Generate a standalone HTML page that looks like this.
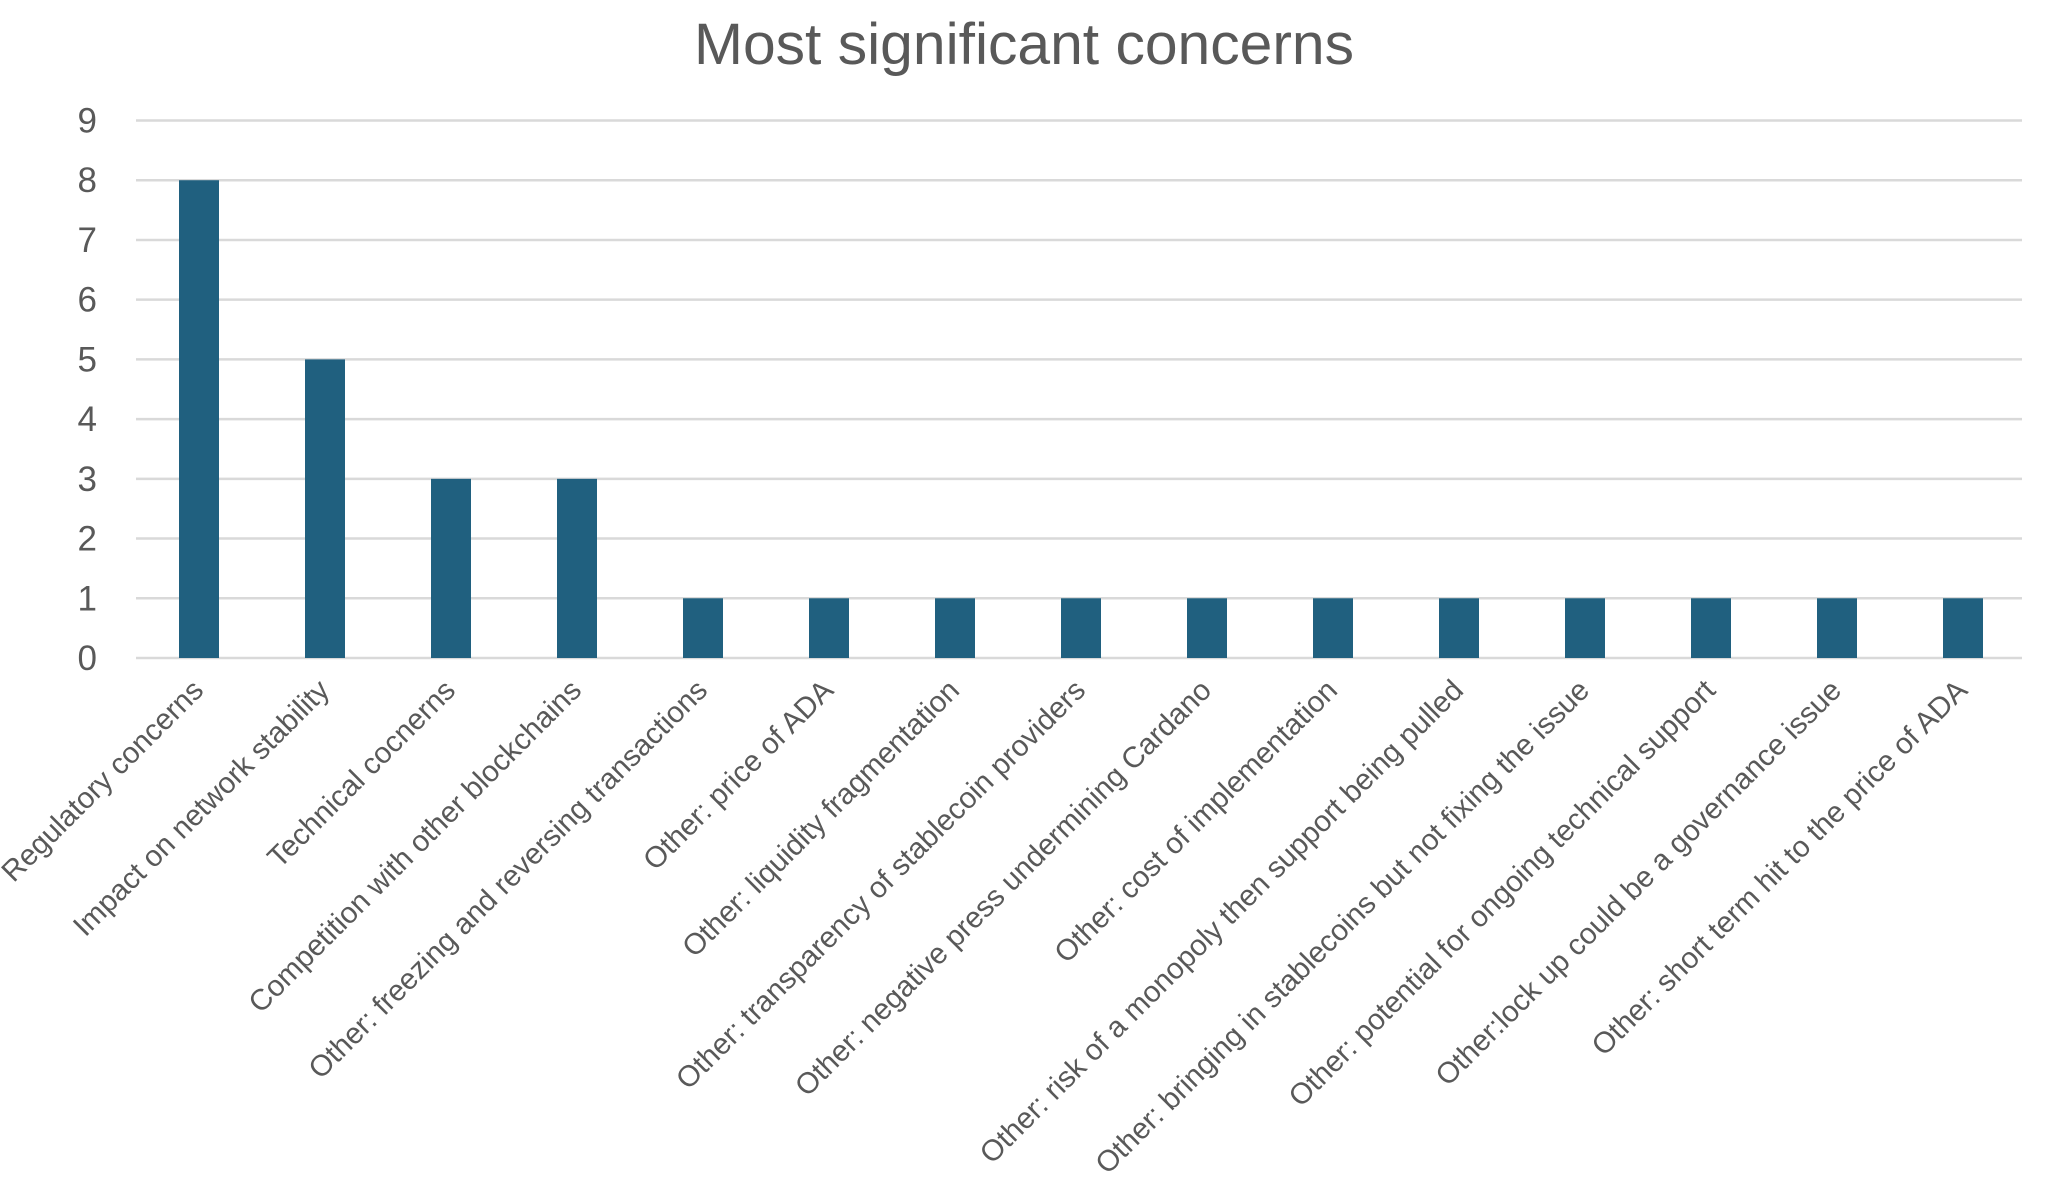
<!DOCTYPE html>
<html><head><meta charset="utf-8"><style>
html,body{margin:0;padding:0;background:#fff;}
svg{display:block;font-family:"Liberation Sans",sans-serif;}
</style></head><body>
<svg id="chart" width="2048" height="1200" viewBox="0 0 2048 1200">
<text x="1024" y="64" text-anchor="middle" font-size="58" fill="#595959" textLength="660" lengthAdjust="spacingAndGlyphs">Most significant concerns</text>
<g id="grid"></g>
<g id="yticks"></g>
<g id="bars"></g>
<g id="xlabels"></g>
</svg>
<script>
const categories = ["Regulatory concerns","Impact on network stability","Technical cocnerns","Competition with other blockchains","Other: freezing and reversing transactions","Other: price of ADA","Other: liquidity fragmentation","Other: transparency of stablecoin providers","Other: negative press undermining Cardano","Other: cost of implementation","Other: risk of a monopoly then support being pulled","Other: bringing in stablecoins but not fixing the issue","Other: potential for ongoing technical support","Other:lock up could be a governance issue","Other: short term hit to the price of ADA"];
const values = [8,5,3,3,1,1,1,1,1,1,1,1,1,1,1];
const yTicks = [0,1,2,3,4,5,6,7,8,9];

const NS="http://www.w3.org/2000/svg";
const plotLeft=136,plotRight=2022,plotTop=120.5,plotBottom=658,yMax=9;
const band=126, barW=40;
function yPos(v){return plotBottom-(v/yMax)*(plotBottom-plotTop);}
function xc(i){return plotLeft+band*(i+0.5);}
function mk(tag,attrs,parent){const e=document.createElementNS(NS,tag);for(const k in attrs)e.setAttribute(k,attrs[k]);parent.appendChild(e);return e;}
const grid=document.getElementById('grid'),yt=document.getElementById('yticks'),bars=document.getElementById('bars'),xl=document.getElementById('xlabels');
yTicks.forEach(t=>{
  const l=mk('line',{x1:plotLeft,x2:plotRight,y1:yPos(t),y2:yPos(t),stroke:'#d9d9d9','stroke-width':2.5},grid);
  
  
  const tx=mk('text',{x:97,y:yPos(t)+12,'text-anchor':'end','font-size':35,fill:'#595959'},yt);
  tx.textContent=t;
  
  
});
values.forEach((v,i)=>{
  const r=mk('rect',{x:xc(i)-barW/2,y:yPos(v),width:barW,height:plotBottom-yPos(v),fill:'#20607f'},bars);
  
  
  const lx=xc(i)+6, ly=692;
  const t=mk('text',{x:lx,y:ly,'text-anchor':'end','font-size':29.5,fill:'#595959',transform:'rotate(-45 '+lx+' '+ly+')'},xl);
  t.textContent=categories[i];
  
  
});
</script>
</body></html>
